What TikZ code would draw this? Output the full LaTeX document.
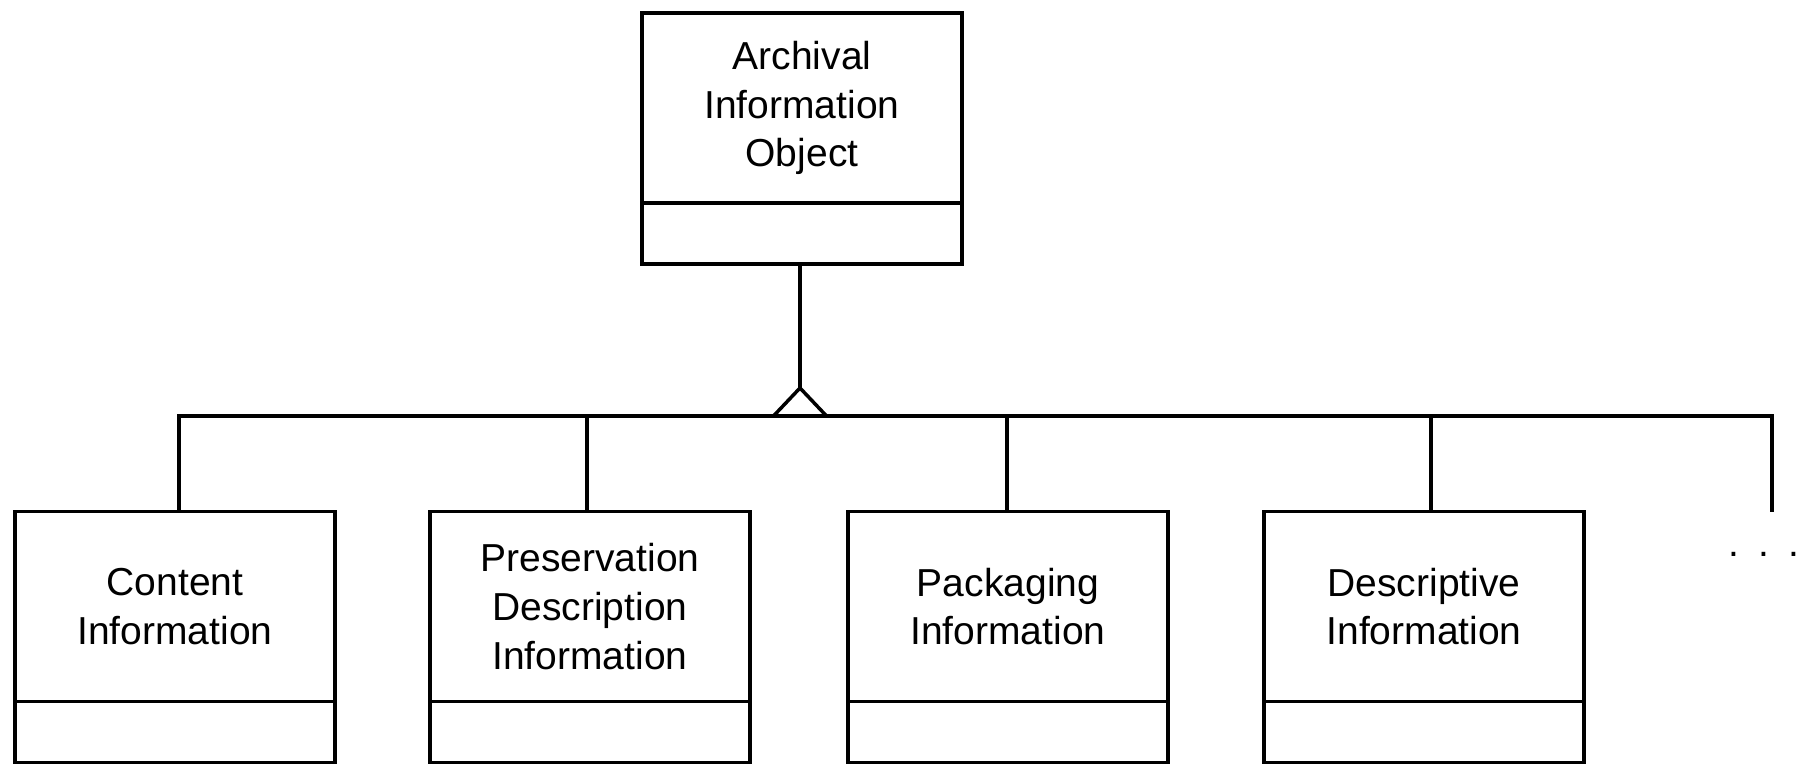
\documentclass[tikz,border=0pt]{standalone}
\usepackage{fontspec}
\setmainfont{Liberation Sans}
\usetikzlibrary{positioning}

\begin{document}
\begin{tikzpicture}[
    x=0.5pt, y=-0.5pt,
    line width=1.75pt,
    classname/.style={draw, outer sep=0pt, inner sep=0pt,
        minimum width=160pt, minimum height=95pt, align=center,
        font={\fontsize{19.5}{24.3}\selectfont}},
    classbody/.style={draw, outer sep=0pt, inner sep=0pt,
        minimum width=160pt, minimum height=30.5pt},
    link/.style={line join=miter}
]
\useasboundingbox (0,0) rectangle (1813,764);

% =========================
% Parent class
% =========================
\node[classname] (aio) at (802,108) {Archival\\Information\\Object};
\node[classbody, below=0pt of aio] (aio-body) {};

% =========================
% Child classes
% =========================
\foreach \name/\x/\txt in {ci/175/{Content\\Information},
    pdi/590/{Preservation\\Description\\Information},
    pi/1008/{Packaging\\Information},
    di/1424/{Descriptive\\Information}}
{
    \node[classname] (\name) at (\x,606.5) {\txt};
    \node[classbody, below=0pt of \name] (\name-body) {};
}

% =========================
% Generalisation
% =========================
\path ([xshift=-1pt]aio-body.south) ++(0,124) coordinate (apex);
\path (apex) ++(-26.5,28) coordinate (tri-l);
\path (apex) ++(26.5,28) coordinate (tri-r);
\coordinate (bus-end) at (1772,416);
\coordinate (more-end) at (1772,512);

\draw[link] ([xshift=-1pt]aio-body.south) -- (apex);
\draw[link] (tri-l) -- (apex) -- (tri-r);

% bus and stubs
\draw[link] ([xshift=2pt]ci.north) -- ([xshift=2pt]ci.north |- bus-end)
    -- (bus-end) -- (more-end);
\foreach \name/\dx in {pdi/-1.5pt, pi/-0.5pt, di/3.5pt}
{
    \draw[link] ([xshift=\dx]\name.north) -- ([xshift=\dx]\name.north |- bus-end);
}

% more classes
\node[anchor=base, inner sep=0pt, font={\fontsize{19.5}{24.3}\selectfont}]
    (more) at (1764,556) {.\hspace{9.6pt}.\hspace{9.6pt}.};

\end{tikzpicture}
\end{document}
